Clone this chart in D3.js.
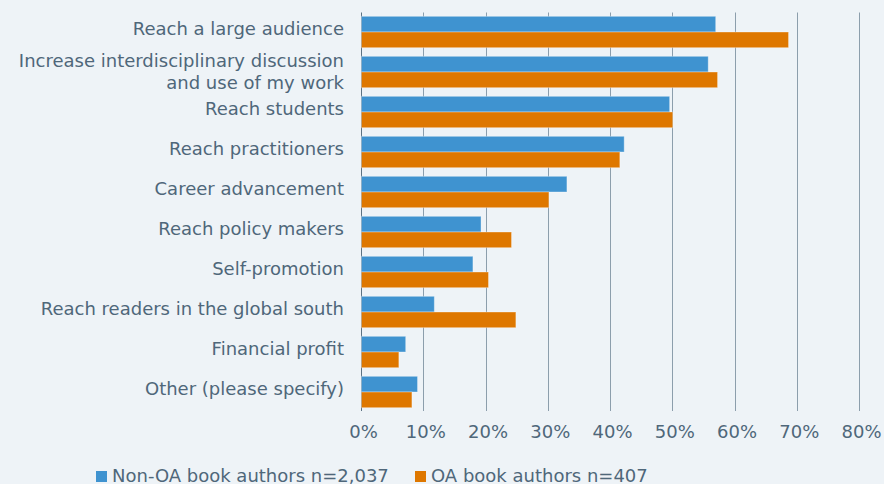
<!DOCTYPE html>
<html>
<head>
<meta charset="utf-8">
<script src="https://cdn.jsdelivr.net/npm/d3@7"></script>
<style>
  html, body { margin: 0; padding: 0; background: #eef3f7; }
  svg { display: block; }
  text { font-family: "DejaVu Sans", sans-serif; fill: #4f677a; }
</style>
</head>
<body>
<svg id="chart" width="884" height="484"></svg>
<script>
// Motivations for publishing, share of respondents (%)
const categories = [
  ["Reach a large audience"],
  ["Increase interdisciplinary discussion", "and use of my work"],
  ["Reach students"],
  ["Reach practitioners"],
  ["Career advancement"],
  ["Reach policy makers"],
  ["Self-promotion"],
  ["Reach readers in the global south"],
  ["Financial profit"],
  ["Other (please specify)"]
];
const seriesNames = ["Non-OA book authors n=2,037", "OA book authors n=407"];
const nonOA = [56.9, 55.7, 49.5, 42.2, 33.0, 19.2, 17.9, 11.7, 7.1, 9.0];
const oa    = [68.6, 57.2, 50.0, 41.5, 30.1, 24.1, 20.4, 24.8, 6.0, 8.1];
const ticks = [0, 10, 20, 30, 40, 50, 60, 70, 80];
const colors = ["#3f93d0", "#de7700"];

const svg = d3.select("#chart");
const keys = categories.map((c, i) => i);
const values = [nonOA, oa];

const x = d3.scaleLinear().domain([0, 80]).range([361, 859]);
const y = d3.scaleBand().domain(keys).range([12, 412])
  .paddingInner(0.215).paddingOuter(0.1075);
const ySub = d3.scaleBand().domain([0, 1]).range([0, y.bandwidth()]);

// vertical gridlines
svg.append("g").selectAll("line").data(ticks).join("line")
  .attr("x1", d => Math.round(x(d)) + 0.5)
  .attr("x2", d => Math.round(x(d)) + 0.5)
  .attr("y1", 12.5).attr("y2", 411)
  .attr("stroke", d => d === 0 ? "#5c7283" : "#8c9eac")
  .attr("stroke-width", 1);

// bars
const groups = svg.append("g").selectAll("g").data(keys).join("g")
  .attr("transform", d => `translate(0,${y(d)})`);
groups.selectAll("rect").data(i => values.map((s, k) => ({ k, v: s[i] }))).join("rect")
  .attr("x", x(0) + 0.5)
  .attr("y", d => ySub(d.k))
  .attr("width", d => x(d.v) - x(0))
  .attr("height", ySub.bandwidth())
  .attr("fill", d => colors[d.k])
  .attr("stroke", "rgba(255,255,255,0.35)")
  .attr("stroke-width", 1);

// category labels
const labels = svg.append("g").selectAll("text").data(keys).join("text")
  .attr("text-anchor", "end")
  .attr("font-size", 18)
  .attr("x", 344)
  .attr("y", d => y(d) + y.bandwidth() / 2 + 3);
labels.selectAll("tspan").data(i => categories[i].map((t, j, arr) => ({ t, j, n: arr.length }))).join("tspan")
  .attr("x", 344)
  .attr("dy", d => d.n === 1 ? 0 : (d.j === 0 ? -8.5 : 22.6))
  .text(d => d.t);

// tick labels
svg.append("g").selectAll("text").data(ticks).join("text")
  .attr("text-anchor", "middle")
  .attr("font-size", 18)
  .attr("x", d => x(d) + 2.5)
  .attr("y", 438)
  .text(d => d + "%");

// legend
const legendPos = [{ sx: 96, tx: 112 }, { sx: 415, tx: 431 }];
const legend = svg.append("g").selectAll("g").data(seriesNames).join("g");
legend.append("rect")
  .attr("x", (d, i) => legendPos[i].sx).attr("y", 471)
  .attr("width", 11).attr("height", 11)
  .attr("fill", (d, i) => colors[i]);
legend.append("text")
  .attr("x", (d, i) => legendPos[i].tx).attr("y", 481.5)
  .attr("font-size", 18)
  .text(d => d);
</script>
</body>
</html>
